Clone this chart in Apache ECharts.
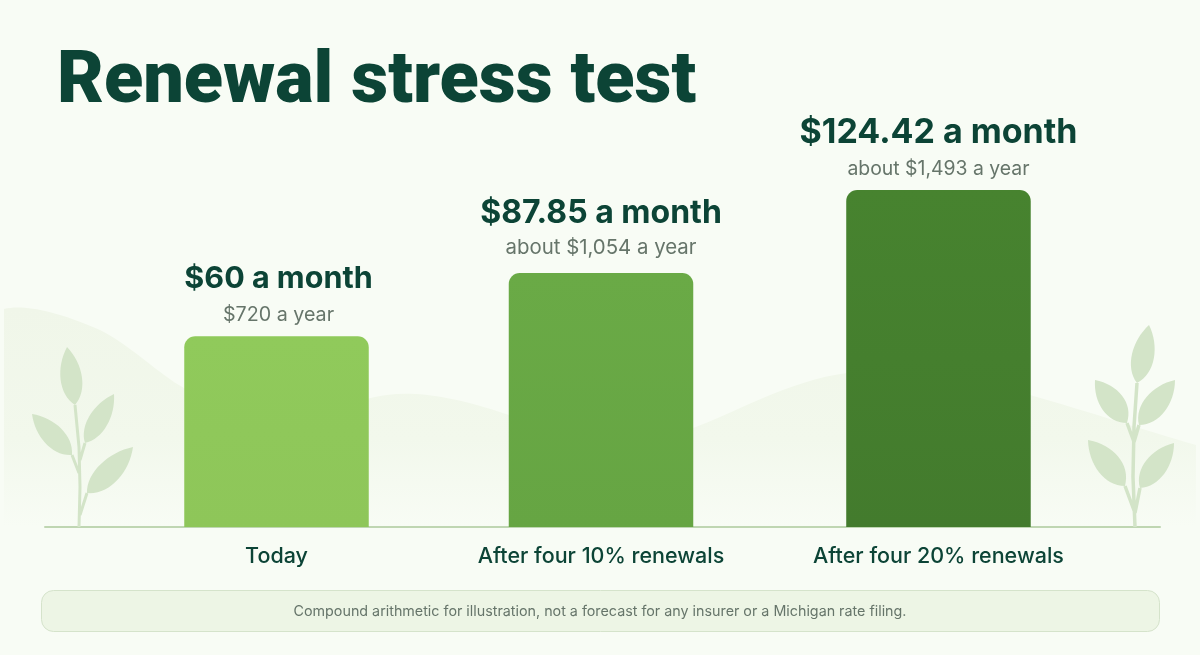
<!DOCTYPE html>
<html><head><meta charset="utf-8">
<style>html,body{margin:0;padding:0;background:#f8fcf5}#c{width:1200px;height:655px}</style>
<script src="https://cdn.jsdelivr.net/npm/echarts@6/dist/echarts.min.js"></script>
</head><body><div id="c"></div>
<script>
const categories = ['Today', 'After four 10% renewals', 'After four 20% renewals'];
const monthlyCost = [60, 87.85, 124.42];
const monthlyLabels = ['$60 a month', '$87.85 a month', '$124.42 a month'];
const yearlyLabels = ['$720 a year', 'about $1,054 a year', 'about $1,493 a year'];
const slots = [1, 2, 3.04];
const barColors = [['#90ca5b', '#8ec659'], ['#6aaa46', '#66a543'], ['#47832f', '#437b2d']];
const monthlyFontSizes = [30.5, 32, 34];
const yearlyFontSizes = [19.7, 20.4, 19.4];
const monthlyGaps = [57, 60, 57];
const yearlyGaps = [21, 25, 21];
const labelShifts = [2, 0, 0];
const titleText = 'Renewal stress test';
const noteText = 'Compound arithmetic for illustration, not a forecast for any insurer or a Michigan rate filing.';

const FONT = 'Inter, "Noto Sans", sans-serif';
const DARK = '#0c4436', GREY = '#66756a', LEAF = '#d3e4c8';
const Y_MIN = -24, Y_MAX = 164.1;

function leafPath(ox, oy, base, tip, wa, wb) {
  const dx = tip[0] - base[0], dy = tip[1] - base[1];
  const len = Math.hypot(dx, dy), nx = -dy / len, ny = dx / len;
  const pt = (t, w) => (ox + base[0] + dx * t + nx * w).toFixed(1) + ' ' + (oy + base[1] + dy * t + ny * w).toFixed(1);
  return 'M' + pt(0, 0) + 'C' + pt(0.22, wa * 1.15) + ' ' + pt(0.68, wa * 1.05) + ' ' + pt(1, 0) +
         'C' + pt(0.68, -wb * 1.05) + ' ' + pt(0.22, -wb * 1.15) + ' ' + pt(0, 0) + 'Z';
}
function stemPath(ox, oy, lines) {
  return lines.map(l => 'M' + l.map(p => (ox + p[0]) + ' ' + (oy + p[1])).join('L')).join('');
}
const hillPath = 'M4 527V309C20 305 50 308 100 330C130 345 160 375 184 388C240 420 320 410 375 397C400 391 440 391 509 415C560 435 640 445 693 428C730 415 790 380 847 373C910 365 980 378 1030 395C1090 412 1150 432 1196 445V527Z';
const leftLeaves = [
  leafPath(79, 527, [-4, -122], [-12, -180], 13, 13),
  leafPath(79, 527, [-7, -72], [-47, -113], 13, 13),
  leafPath(79, 527, [6, -84], [35, -133], 12, 12),
  leafPath(79, 527, [8, -34], [54, -80], 15, 13)
].join('');
const leftStem = stemPath(79, 527, [
  [[0, 0], [1, -40], [0, -80], [-4, -122]],
  [[0, -54], [-7, -72]], [[1, -67], [6, -84]], [[1, -12], [8, -34]]
]);
const rightLeaves = [
  leafPath(1135, 527, [2, -144], [14, -202], 14, 13),
  leafPath(1135, 527, [-8, -104], [-40, -147], 15, 14),
  leafPath(1135, 527, [4, -102], [40, -147], 14, 14),
  leafPath(1135, 527, [-10, -41], [-47, -87], 16, 14),
  leafPath(1135, 527, [5, -39], [39, -84], 13, 14)
].join('');
const rightStem = stemPath(1135, 527, [
  [[0, 0], [-2, -50], [-1, -100], [2, -144]],
  [[-1, -85], [-8, -104]], [[-1, -85], [4, -102]], [[0, -14], [-10, -41]], [[0, -14], [5, -39]]
]);
echarts.graphic.registerShape('hillShape', echarts.graphic.extendPath(hillPath));
echarts.graphic.registerShape('leftLeaves', echarts.graphic.extendPath(leftLeaves));
echarts.graphic.registerShape('leftStem', echarts.graphic.extendPath(leftStem));
echarts.graphic.registerShape('rightLeaves', echarts.graphic.extendPath(rightLeaves));
echarts.graphic.registerShape('rightStem', echarts.graphic.extendPath(rightStem));

const chart = echarts.init(document.getElementById('c'), null, { renderer: 'canvas' });
const pxPerSlot = 324.5, barPx = 184.5;
chart.setOption({
  animation: false,
  backgroundColor: '#f8fcf5',
  grid: { left: 45, right: 40, top: 100, bottom: 128 },
  xAxis: {
    type: 'value', min: 1 - 231.5 / pxPerSlot, max: 1 + 883.5 / pxPerSlot,
    splitLine: { show: false }, axisTick: { show: false },
    axisLine: { show: true, onZero: false, lineStyle: { color: '#bfd6b2', width: 2 } },
    axisLabel: {
      customValues: slots, margin: 19, color: DARK, fontFamily: FONT, fontSize: 21.5, fontWeight: 500,
      formatter: v => categories[slots.indexOf(v)] || ''
    }
  },
  yAxis: { type: 'value', min: Y_MIN, max: Y_MAX, show: false, splitLine: { show: false } },
  series: [{
    type: 'custom', coordinateSystem: 'cartesian2d', z: 3, clip: false,
    encode: { x: 0, y: 1 },
    data: monthlyCost.map((v, i) => [slots[i], v]),
    renderItem: (params, api) => {
      const i = params.dataIndex;
      const top = api.coord([api.value(0), api.value(1)]);
      const bottom = api.coord([api.value(0), Y_MIN]);
      return {
        type: 'group',
        children: [
          { type: 'rect',
            shape: { x: top[0] - barPx / 2, y: top[1], width: barPx, height: bottom[1] - top[1], r: [11, 11, 0, 0] },
            style: { fill: new echarts.graphic.LinearGradient(0, 0, 0, 1, [
              { offset: 0, color: barColors[i][0] }, { offset: 1, color: barColors[i][1] }]) } },
          { type: 'text', style: { x: top[0] + labelShifts[i], y: top[1] - monthlyGaps[i], text: monthlyLabels[i], fill: DARK, align: 'center',
              verticalAlign: 'middle', font: '700 ' + monthlyFontSizes[i] + 'px ' + FONT } },
          { type: 'text', style: { x: top[0] + labelShifts[i], y: top[1] - yearlyGaps[i], text: yearlyLabels[i], fill: GREY, align: 'center',
              verticalAlign: 'middle', font: '400 ' + yearlyFontSizes[i] + 'px ' + FONT } }
        ]
      };
    }
  }],
  graphic: [
    { type: 'hillShape', silent: true, z: 0, style: { fill: new echarts.graphic.LinearGradient(0, 0, 0, 1, [
        { offset: 0, color: '#f0f6e9' }, { offset: 0.6, color: '#f2f8ec' }, { offset: 1, color: '#f8fcf5' }]) } },
    { type: 'leftStem', silent: true, z: 1, style: { fill: 'none', stroke: LEAF, lineWidth: 3 } },
    { type: 'rightStem', silent: true, z: 1, style: { fill: 'none', stroke: LEAF, lineWidth: 3.5 } },
    { type: 'leftLeaves', silent: true, z: 1, style: { fill: LEAF } },
    { type: 'rightLeaves', silent: true, z: 1, style: { fill: LEAF } },
    { type: 'text', silent: true, z: 5, style: { x: 57, y: 84, text: titleText, fill: DARK,
        font: '900 72px Roboto, Inter, sans-serif', verticalAlign: 'middle' } },
    { type: 'rect', silent: true, z: 5, shape: { x: 41.5, y: 590.5, width: 1118, height: 41, r: 12 },
      style: { fill: '#edf5e5', stroke: '#d5e3cb', lineWidth: 1 } },
    { type: 'text', silent: true, z: 6, style: { x: 600, y: 612, text: noteText, fill: GREY,
        font: '400 14.3px ' + FONT, align: 'center', verticalAlign: 'middle' } }
  ]
});
</script></body></html>
